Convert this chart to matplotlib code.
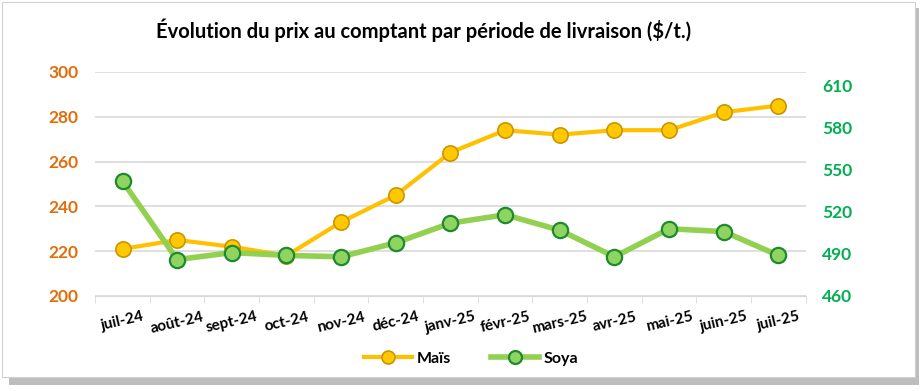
import matplotlib.pyplot as plt
from matplotlib.patches import Rectangle
import numpy as np

# Data
months = ["juil-24", "août-24", "sept-24", "oct-24", "nov-24", "déc-24", "janv-25",
          "févr-25", "mars-25", "avr-25", "mai-25", "juin-25", "juil-25"]
mais = [221, 225, 222, 218, 233, 245, 264, 274, 272, 274, 274, 282, 285]
soya = [542, 486, 491, 489, 488, 498, 512, 518, 507, 488, 508, 506, 489]

plt.rcParams['font.family'] = ['Lato', 'DejaVu Sans']

fig = plt.figure(figsize=(9.24, 3.91), dpi=100)

# frame with shadow
fig.patches.append(Rectangle((0.010, 0.015), 0.985, 0.965, transform=fig.transFigure,
                             facecolor='#bdbdbd', edgecolor='none', zorder=-3))
fig.patches.append(Rectangle((0.002, 0.035), 0.988, 0.960, transform=fig.transFigure,
                             facecolor='white', edgecolor='#d0d0d0', lw=0.8, zorder=-2))

ax = fig.add_axes([0.103, 0.243, 0.769, 0.573])
ax2 = ax.twinx()

x = np.arange(len(months))

# Maïs on the left axis
ax.plot(x, mais, color='#FFC000', lw=3, marker='o', markersize=11,
        markerfacecolor='#FFC800', markeredgecolor='#C89600', markeredgewidth=1.2,
        label='Maïs', zorder=3)
# Soya on the right axis
ax2.plot(x, soya, color='#92D050', lw=4, marker='o', markersize=11,
         markerfacecolor='#8FD460', markeredgecolor='#1E8A2E', markeredgewidth=1.6,
         label='Soya', zorder=4)

ax.set_xlim(-0.5, len(months) - 0.5)
ax.set_ylim(200, 300)
ax.set_yticks(np.arange(200, 301, 20))
ax2.set_ylim(460, 620)
ax2.set_yticks(np.arange(460, 611, 30))

ax.grid(axis='y', color='#d9d9d9', lw=1.2)
ax.set_axisbelow(True)

for a in (ax, ax2):
    for s in ('top', 'left', 'right'):
        a.spines[s].set_visible(False)
ax.spines['bottom'].set_color('#d9d9d9')
ax2.spines['bottom'].set_visible(False)

ax.set_xticks(x)
ax.set_xticklabels(months, rotation=13, fontsize=11, fontweight='bold')
ax.set_xticks(np.arange(-0.5, len(months), 1), minor=True)
ax.tick_params(axis='x', which='major', length=0, pad=10)
ax.tick_params(axis='x', which='minor', length=5, color='#d9d9d9')
ax.tick_params(axis='y', length=0, labelcolor='#E36C09', labelsize=12.5, pad=12)
ax2.tick_params(axis='y', length=0, labelcolor='#00B050', labelsize=12.5, pad=12)
for lbl in ax.get_yticklabels() + ax2.get_yticklabels():
    lbl.set_fontweight('bold')

fig.text(0.458, 0.922, "Évolution du prix au comptant par période de livraison ($/t.)",
         ha='center', va='center', fontsize=14.5, fontweight='bold')

h1, l1 = ax.get_legend_handles_labels()
h2, l2 = ax2.get_legend_handles_labels()
fig.legend(h1 + h2, l1 + l2, loc='center', bbox_to_anchor=(0.51, 0.083), ncol=2,
           frameon=False, prop={'size': 11.5, 'weight': 'bold'}, handlelength=3,
           columnspacing=2.5, handletextpad=0.3, markerscale=0.85)

fig.savefig('out.png', dpi=100)
